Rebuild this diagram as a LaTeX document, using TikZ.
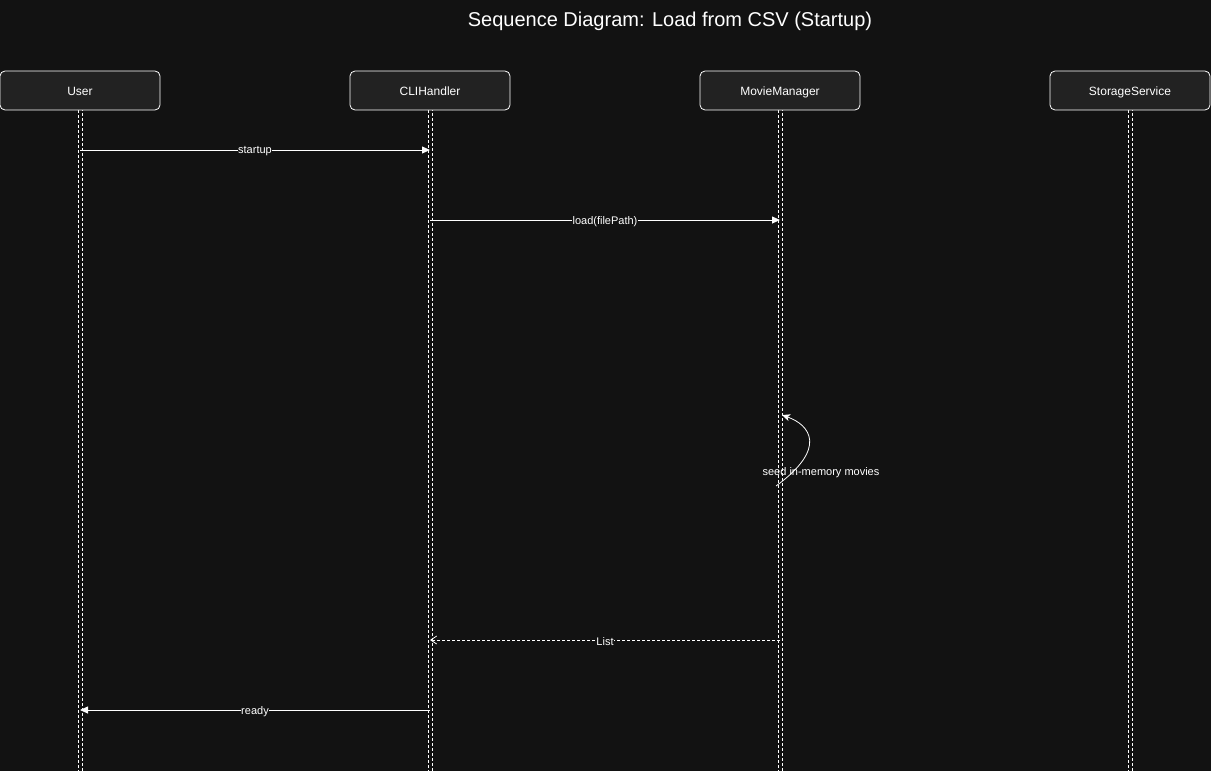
\documentclass[tikz,border=0pt]{standalone}
\usepackage{fontspec}
\setmainfont{Liberation Sans}
\usetikzlibrary{arrows.meta}
\definecolor{bgc}{HTML}{121212}
\definecolor{boxc}{HTML}{222222}
\tikzset{
  actor/.style={draw=white, fill=boxc, rounded corners=5pt, minimum width=160pt, minimum height=39pt, line width=0.8pt, text=white, font=\fontsize{12pt}{14pt}\selectfont, inner sep=0pt, text height=10.5pt, text depth=0pt},
  lifeline/.style={draw=white, line width=0.7pt, dash pattern=on 3pt off 2pt},
  msg/.style={draw=white, line width=0.8pt, -{Triangle[width=7pt,length=8pt]}},
  ret/.style={draw=white, line width=0.8pt, dash pattern=on 3pt off 2pt, -{Straight Barb[width=8pt,length=6pt]}},
  lbl/.style={fill=bgc, text=white, inner sep=0.5pt, yshift=-1.5pt, font=\fontsize{11pt}{13pt}\selectfont}
}
\begin{document}
\begin{tikzpicture}[x=1pt,y=-1pt]
\fill[bgc] (0,0) rectangle (1211,771);
\useasboundingbox (0,0) rectangle (1211,771);
\node[text=white, font=\fontsize{20pt}{24pt}\selectfont] (title) at (670,21) {Sequence Diagram: Load from CSV (Startup)};
% lifelines
\foreach \n/\x in {u/80,c/430,m/780,s/1130}{
  \coordinate (\n top) at (\x,110);
  \coordinate (\n bot) at (\x,771);
  \draw[lifeline] ([xshift=-2pt]\n top) -- ([xshift=-2pt]\n bot);
  \draw[lifeline, dash phase=2pt] ([xshift=2pt]\n top) -- ([xshift=2pt]\n bot);
}
\node[actor] (user) at (80,90.5) {User};
\node[actor] (cli) at (430,90.5) {CLIHandler};
\node[actor] (mm) at (780,90.5) {MovieManager};
\node[actor] (ss) at (1130,90.5) {StorageService};
% messages
\coordinate (u1) at (80,150); \coordinate (c1) at (430,150);
\draw[msg] (u1) -- node[lbl]{startup} (c1);
\coordinate (c2) at (430,220); \coordinate (m2) at (780,220);
\draw[msg] (c2) -- node[lbl]{load(filePath)} (m2);
\coordinate (m3a) at (776,486); \coordinate (m3b) at (782,415);
\draw[draw=white, line width=0.8pt, -{Stealth[width=7pt,length=8pt,inset=2pt]}] (m3a) .. controls (828,448) and (810,425) .. (m3b);
\node[lbl, fill=none] (seed) at (821,471) {seed in-memory movies};
\coordinate (m4) at (780,640); \coordinate (c4) at (430,640);
\draw[ret] (m4) -- node[lbl]{List} (c4);
\coordinate (c5) at (430,710); \coordinate (u5) at (80,710);
\draw[msg] (c5) -- node[lbl]{ready} (u5);
\end{tikzpicture}
\end{document}
